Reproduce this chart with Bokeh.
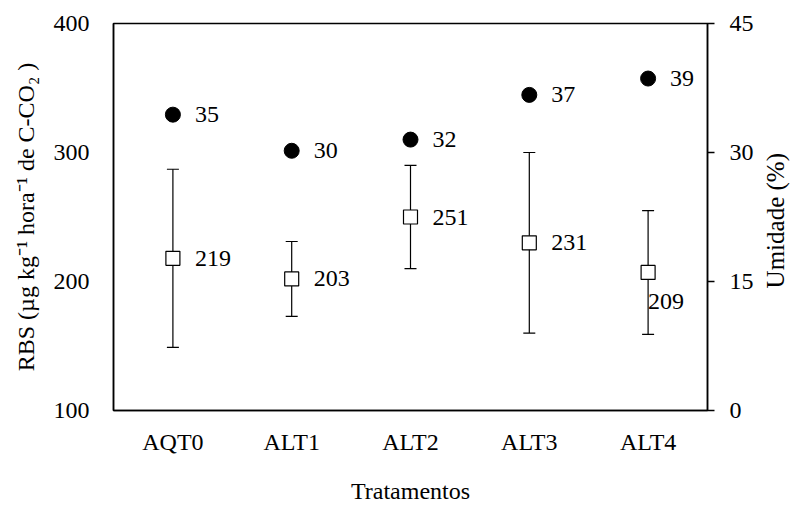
import math
from bokeh.plotting import figure
from bokeh.models import (ColumnDataSource, Range1d, LinearAxis, FixedTicker,
                          Whisker, LabelSet)
from bokeh.core.properties import value
from bokeh.embed import file_html
from bokeh.resources import INLINE

categories = ["AQT0", "ALT1", "ALT2", "ALT3", "ALT4"]
rbs = [218, 202, 250, 230, 207]
rbs_sd = [69, 29, 40, 70, 48]
rbs_labels = ["219", "203", "251", "231", "209"]
umidade = [34.4, 30.2, 31.5, 36.7, 38.6]
umidade_labels = ["35", "30", "32", "37", "39"]
rbs_ticks = [100, 200, 300, 400]
umid_ticks = [0, 15, 30, 45]
umid_title = "Umidade (%)"

FONT = "Liberation Serif"
FS = "24px"

xpos = list(range(1, len(categories) + 1))

src = ColumnDataSource(dict(
    x=xpos, rbs=rbs,
    upper=[m + s for m, s in zip(rbs, rbs_sd)],
    lower=[m - s for m, s in zip(rbs, rbs_sd)],
    lab=rbs_labels,
    xo=[22, 22, 22, 22, 0],
    yo=[0, 0, 0, 0, -29],
))
usrc = ColumnDataSource(dict(x=xpos, u=umidade, lab=umidade_labels))

FW, FH = 594, 387
BL, BR, BT, BB = 113, 85, 23, 95
x0, x1 = 0.5, len(categories) + 0.5
p = figure(x_range=Range1d(x0, x1), y_range=Range1d(100, 400),
           frame_width=FW, frame_height=FH,
           min_border_left=BL, min_border_right=BR,
           min_border_top=BT, min_border_bottom=BB,
           output_backend="svg", toolbar_location=None)
p.width = BL + FW + BR
p.height = BT + FH + BB
p.grid.visible = False
p.outline_line_color = "black"
p.outline_line_width = 1.5
p.background_fill_color = "white"
p.border_fill_color = "white"

p.extra_y_ranges = {"u": Range1d(0, 45)}

# left axis
yax = p.yaxis[0]
yax.ticker = FixedTicker(ticks=rbs_ticks)
yax.major_tick_line_color = None
yax.minor_tick_line_color = None
yax.axis_line_color = "black"
yax.axis_line_width = 1.5
yax.major_label_text_font = FONT
yax.major_label_text_font_size = FS
yax.major_label_text_color = "black"
yax.major_label_standoff = 18
yax.axis_label = "RBS (µg kg⁻¹ hora⁻¹ de C-CO₂ )"
yax.axis_label_text_font = FONT
yax.axis_label_text_font_style = "normal"
yax.axis_label_text_font_size = FS
yax.axis_label_text_color = "black"
yax.axis_label_standoff = 12

# bottom axis
xax = p.xaxis[0]
xax.ticker = FixedTicker(ticks=xpos)
xax.major_label_overrides = {i: c for i, c in zip(xpos, categories)}
xax.major_tick_line_color = None
xax.minor_tick_line_color = None
xax.axis_line_color = "black"
xax.axis_line_width = 1.5
xax.major_label_text_font = FONT
xax.major_label_text_font_size = FS
xax.major_label_text_color = "black"
xax.major_label_standoff = 12
xax.axis_label = "Tratamentos"
xax.axis_label_text_font = FONT
xax.axis_label_text_font_style = "normal"
xax.axis_label_text_font_size = FS
xax.axis_label_text_color = "black"
xax.axis_label_standoff = 20

# right axis
rax = LinearAxis(y_range_name="u", ticker=FixedTicker(ticks=umid_ticks))
rax.major_tick_out = 7
rax.major_tick_in = 0
rax.major_tick_line_color = "black"
rax.major_tick_line_width = 1.5
rax.minor_tick_line_color = None
rax.axis_line_color = "black"
rax.axis_line_width = 1.5
rax.major_label_text_font = FONT
rax.major_label_text_font_size = FS
rax.major_label_text_color = "black"
rax.major_label_standoff = 15
p.add_layout(rax, "right")

# right axis title, reading bottom to top: a bare axis carrying one rotated label
# (the label starts at the anchor and runs upward)
anchor = 14.2
tax = LinearAxis(y_range_name="u", ticker=FixedTicker(ticks=[anchor]))
tax.major_label_overrides = {anchor: umid_title}
tax.major_label_orientation = math.pi / 2
tax.major_tick_line_color = None
tax.minor_tick_line_color = None
tax.axis_line_color = None
tax.major_label_text_font = FONT
tax.major_label_text_font_size = "25px"
tax.major_label_text_color = "black"
tax.major_label_standoff = 13
p.add_layout(tax, "right")

# error bars
w = Whisker(source=src, base="x", upper="upper", lower="lower",
            line_color="black", line_width=1.2)
for h in (w.upper_head, w.lower_head):
    h.size = 12
    h.line_color = "black"
    h.line_width = 1.2
p.add_layout(w)

p.scatter("x", "rbs", source=src, marker="square", size=14,
          fill_color="white", line_color="black", line_width=1.2)
p.scatter("x", "u", source=usrc, y_range_name="u", marker="circle", size=15,
          fill_color="black", line_color="black")

p.add_layout(LabelSet(x="x", y="rbs", text="lab", source=src,
                      x_offset="xo", y_offset="yo",
                      text_font=value(FONT), text_font_size=FS, text_color="black",
                      text_baseline="middle", text_align="left"))
p.add_layout(LabelSet(x="x", y="u", text="lab", source=usrc, y_range_name="u",
                      x_offset=22,
                      text_font=value(FONT), text_font_size=FS, text_color="black",
                      text_baseline="middle", text_align="left"))

open("out.html", "w").write(file_html(p, INLINE))
